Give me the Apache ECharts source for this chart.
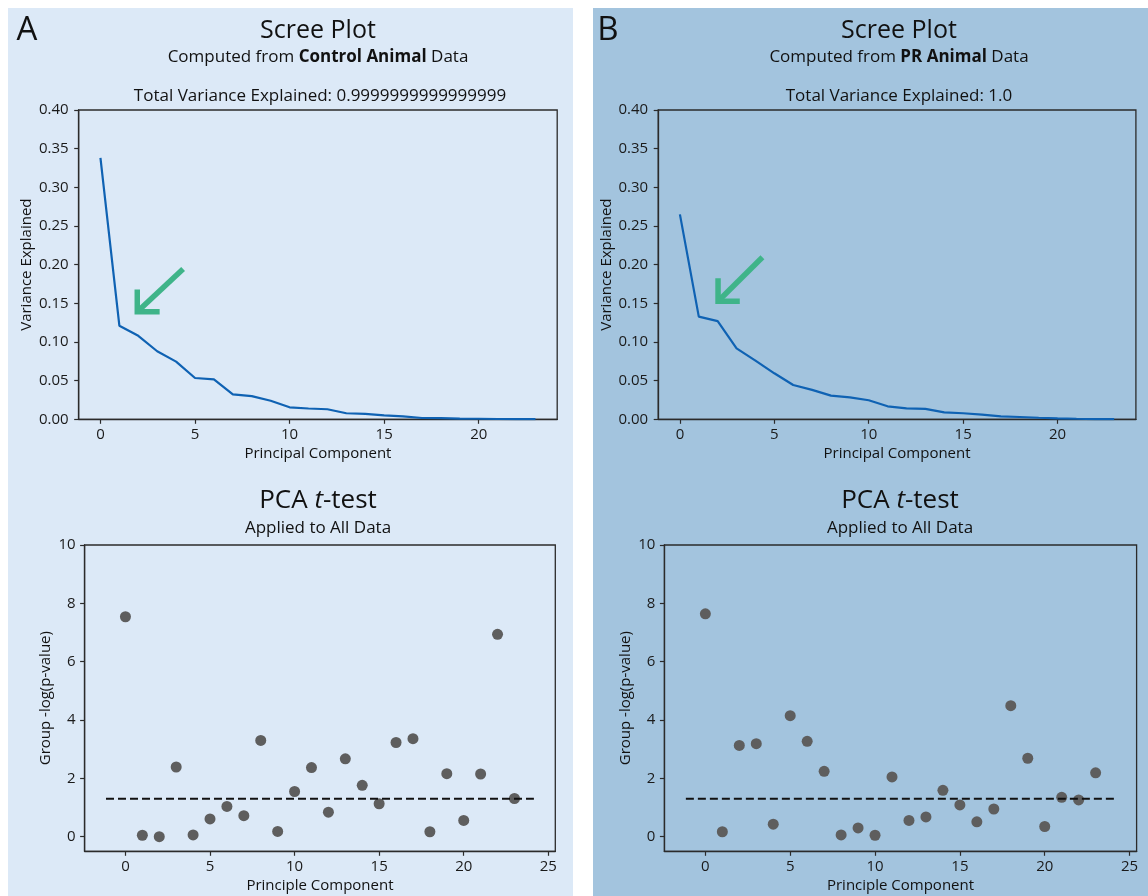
<!DOCTYPE html>
<html><head><meta charset="utf-8">
<script src="https://cdn.jsdelivr.net/npm/echarts@6/dist/echarts.min.js"></script>
<style>html,body{margin:0;padding:0;background:#fff}#c{width:1148px;height:896px}</style>
</head><body><div id="c"></div>
<script>
// ---- data ----
const components = [0,1,2,3,4,5,6,7,8,9,10,11,12,13,14,15,16,17,18,19,20,21,22,23];
const screeControl = [0.338,0.121,0.108,0.088,0.0746,0.0534,0.0517,0.0323,0.030,0.024,0.0155,0.014,0.013,0.0078,0.007,0.0052,0.0039,0.0017,0.0014,0.0010,0.0007,0.0004,0.0002,0.0001];
const screePR = [0.265,0.1328,0.127,0.0918,0.0759,0.0595,0.0444,0.038,0.0306,0.0284,0.0246,0.0168,0.0142,0.0134,0.009,0.0078,0.006,0.0039,0.003,0.002,0.0012,0.0007,0.0003,0.0001];
const ttestControl = [7.54,0.05,0.0,2.39,0.06,0.61,1.04,0.72,3.30,0.18,1.55,2.37,0.84,2.67,1.76,1.13,3.23,3.36,0.17,2.16,0.56,2.15,6.94,1.31];
const ttestPR = [7.64,0.17,3.13,3.19,0.43,4.15,3.27,2.24,0.06,0.30,0.05,2.05,0.56,0.68,1.59,1.09,0.51,0.95,4.49,2.69,0.35,1.35,1.26,2.19];
const threshold = 1.3;            // -log10(0.05)
const thresholdSpan = [-1.15, 24.15];
const screeXTicks = [0,5,10,15,20];
const screeYTicks = [0,0.05,0.10,0.15,0.20,0.25,0.30,0.35,0.40];
const ttestXTicks = [0,5,10,15,20,25];
const ttestYTicks = [0,2,4,6,8,10];
const totalControl = '0.9999999999999999';
const totalPR = '1.0';

// ---- style ----
const FONT = '"Open Sans", "Noto Sans", sans-serif';
const INK = '#111';
const AX = '#2b2b2b';
const LINE_BLUE = '#0f62b3';
const DOT = '#5e5e5e';
const ARROW = '#3fb489';

const chart = echarts.init(document.getElementById('c'), null, {renderer: 'canvas'});

const grids = [
  {left: 78.7, top: 110, width: 478.5, height: 309.3},
  {left: 658.2, top: 110, width: 477.7, height: 309.3},
  {left: 84.6, top: 545, width: 470.7, height: 306.3},
  {left: 664.4, top: 545, width: 472.2, height: 306.3}
].map(g => Object.assign(g, {show: true, borderColor: AX, borderWidth: 1.3, backgroundColor: 'transparent', containLabel: false}));

function xAx(i, min, max, ticks, name) {
  return {
    type: 'value', gridIndex: i, min, max,
    name, nameLocation: 'middle', nameGap: 27,
    nameTextStyle: {fontFamily: FONT, fontSize: 15, color: INK},
    axisLine: {show: true, onZero: false, lineStyle: {color: AX, width: 1.3}},
    axisTick: {show: true, inside: false, length: 4.5, customValues: ticks, lineStyle: {color: AX, width: 1.2}},
    axisLabel: {customValues: ticks, margin: 8, fontFamily: FONT, fontSize: 15, color: '#1a1a1a', formatter: v => String(v)},
    splitLine: {show: false}
  };
}
function yAx(i, min, max, ticks, name, fmt, gap, margin) {
  return {
    type: 'value', gridIndex: i, min, max,
    name, nameLocation: 'middle', nameGap: gap, nameRotate: 90,
    nameTextStyle: {fontFamily: FONT, fontSize: 15, color: INK},
    axisLine: {show: true, onZero: false, lineStyle: {color: AX, width: 1.3}},
    axisTick: {show: true, inside: false, length: 4.5, customValues: ticks, lineStyle: {color: AX, width: 1.2}},
    axisLabel: {customValues: ticks, margin: margin, fontFamily: FONT, fontSize: 15, color: '#1a1a1a', formatter: fmt},
    splitLine: {show: false}
  };
}

const fmt2 = v => v.toFixed(2);
const fmt0 = v => String(Math.round(v));

const xAxis = [
  xAx(0, -1.15, 24.15, screeXTicks, 'Principal Component'),
  xAx(1, -1.15, 24.15, screeXTicks, 'Principal Component'),
  xAx(2, -2.415, 25.415, ttestXTicks, 'Principle Component'),
  xAx(3, -2.415, 25.415, ttestXTicks, 'Principle Component')
];
const yAxis = [
  yAx(0, 0, 0.40, screeYTicks, 'Variance Explained', fmt2, 44, 10),
  yAx(1, 0, 0.40, screeYTicks, 'Variance Explained', fmt2, 44, 10),
  yAx(2, -0.5, 10, ttestYTicks, 'Group -log(p-value)', fmt0, 31, 9),
  yAx(3, -0.5, 10, ttestYTicks, 'Group -log(p-value)', fmt0, 31, 9)
];

function screeSeries(idx, vals) {
  return {type: 'line', xAxisIndex: idx, yAxisIndex: idx, showSymbol: false, symbol: 'none', silent: true,
    data: components.map((c, i) => [c, vals[i]]), lineStyle: {color: LINE_BLUE, width: 2.2}, z: 3};
}
function ttestSeries(idx, vals) {
  return {type: 'scatter', xAxisIndex: idx, yAxisIndex: idx, symbolSize: 11, silent: true,
    data: components.map((c, i) => [c, vals[i]]), itemStyle: {color: DOT, opacity: 1}, z: 3};
}
function thresholdSeries(idx) {
  return {type: 'line', xAxisIndex: idx, yAxisIndex: idx, showSymbol: false, symbol: 'none', silent: true,
    data: thresholdSpan.map(x => [x, threshold]), lineStyle: {color: INK, width: 2, type: [8, 4]}, z: 4};
}
// annotation arrows (data coordinates of the scree axes)
function arrowSeries(idx, tail, corner, up, right) {
  const common = {type: 'line', xAxisIndex: idx, yAxisIndex: idx, showSymbol: false, symbol: 'none', silent: true, z: 5,
    lineStyle: {color: ARROW, width: 5.5, cap: 'butt', join: 'miter'}};
  return [
    Object.assign({}, common, {data: [tail, corner]}),
    Object.assign({}, common, {data: [up, corner, right]})
  ];
}

const series = [
  screeSeries(0, screeControl),
  screeSeries(1, screePR),
  ttestSeries(2, ttestControl),
  thresholdSeries(2),
  ttestSeries(3, ttestPR),
  thresholdSeries(3),
  ...arrowSeries(0, [4.37, 0.1944], [1.947, 0.1392], [1.947, 0.1679], [3.13, 0.1392]),
  ...arrowSeries(1, [4.37, 0.2095], [2.02, 0.1526], [2.02, 0.1823], [3.17, 0.1526])
];

function txt(x, y, text, size, extra) {
  return Object.assign({type: 'text', z: 10, style: Object.assign({x, y, text, fill: INK,
    fontFamily: FONT, fontSize: size, align: 'center', verticalAlign: 'middle'}, extra || {})});
}
const richSub = {b: {fontFamily: FONT, fontSize: 17, fontWeight: 'bold', fill: INK, color: INK}, n: {fontFamily: FONT, fontSize: 17, color: INK}};
const richTT = {n: {fontFamily: FONT, fontSize: 26, color: INK}, i: {fontFamily: FONT, fontSize: 26, fontStyle: 'italic', color: INK}};

const graphic = [
  {type: 'rect', z: -10, shape: {x: 8, y: 8, width: 565, height: 888}, style: {fill: '#dce9f7'}},
  {type: 'rect', z: -10, shape: {x: 593, y: 8, width: 555, height: 888}, style: {fill: '#a3c4de'}},
  txt(27, 31, 'A', 33),
  txt(608, 31, 'B', 33),
  txt(318, 31, 'Scree Plot', 25),
  txt(899, 31, 'Scree Plot', 25),
  txt(318, 57, '{n|Computed from }{b|Control Animal}{n| Data}', 17, {rich: richSub}),
  txt(899, 57, '{n|Computed from }{b|PR Animal}{n| Data}', 17, {rich: richSub}),
  txt(320, 96, 'Total Variance Explained: ' + totalControl, 17),
  txt(899, 96, 'Total Variance Explained: ' + totalPR, 17),
  txt(318, 501, '{n|PCA }{i|t}{n|-test}', 26, {rich: richTT}),
  txt(900, 501, '{n|PCA }{i|t}{n|-test}', 26, {rich: richTT}),
  txt(318, 528, 'Applied to All Data', 17),
  txt(900, 528, 'Applied to All Data', 17)
];

chart.setOption({
  backgroundColor: '#ffffff',
  animation: false,
  grid: grids,
  xAxis, yAxis, series, graphic
});
</script>
</body></html>
